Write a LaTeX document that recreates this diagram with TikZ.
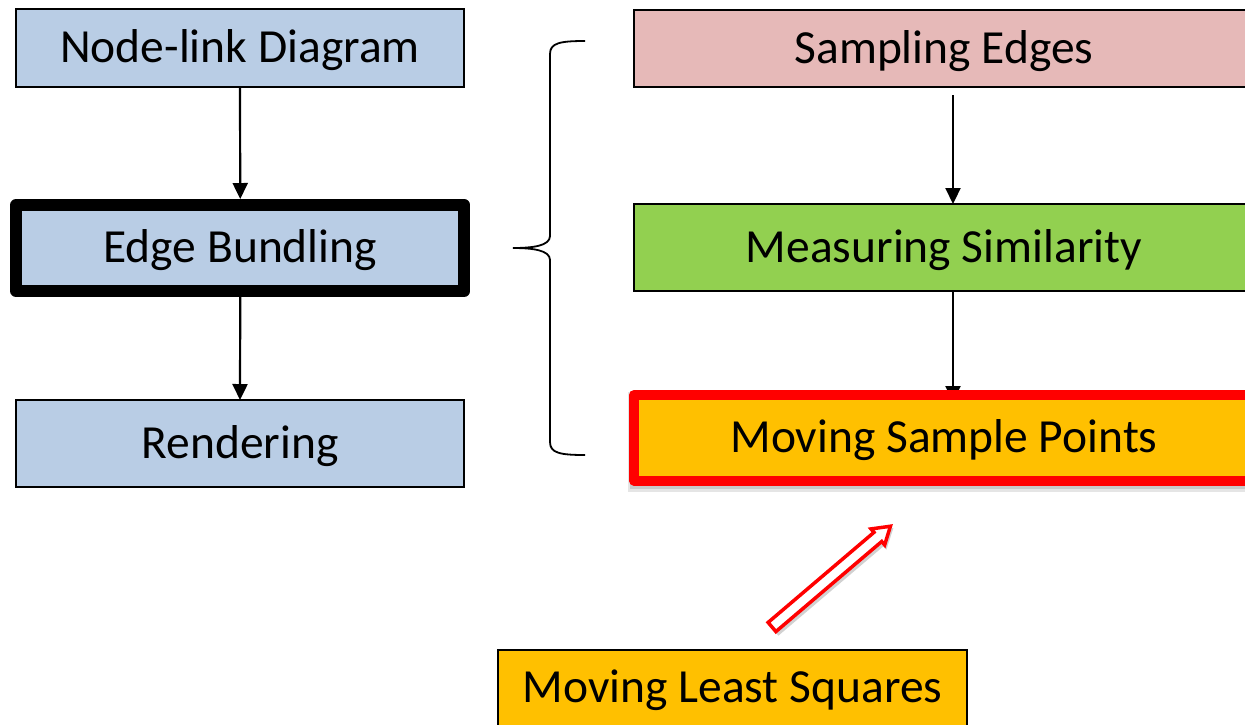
\documentclass[tikz,border=0pt]{standalone}
\usepackage{fontspec}
\setmainfont{Carlito}
\usetikzlibrary{arrows.meta,calc,backgrounds}

\definecolor{boxblue}{HTML}{B9CDE5}
\definecolor{boxpink}{HTML}{E6B9B8}
\definecolor{boxgreen}{HTML}{92D050}
\definecolor{boxgold}{HTML}{FFC000}
\definecolor{hotred}{HTML}{FF0000}

\tikzset{
  stagebox/.style={draw=black, line width=1.6pt, rectangle, align=center,
    font=\fontsize{47.5}{54}\selectfont, text height=29pt, text depth=0pt,
    inner sep=0pt, outer sep=0pt},
  blueboxstyle/.style={stagebox, fill=boxblue, minimum width=448pt},
  rightbox/.style={stagebox, minimum width=620pt},
  flow/.style={draw=black, line width=2.2pt, -{Triangle[length=16pt,width=15pt]}},
  bracestyle/.style={draw=black, line width=1.8pt},
}

\begin{document}
\begin{tikzpicture}[x=1pt, y=-1pt]
  \useasboundingbox (0,0) rectangle (1245,724);
  \clip (0,0) rectangle (1245,724);

  % left column: pipeline
  \node[blueboxstyle, minimum height=78pt] (nld) at (240,48) {Node-link Diagram};
  \node[blueboxstyle, minimum height=86pt, line width=12pt, line join=round,
        outer sep=6pt] (eb) at (240.25,248) {Edge Bundling};
  \node[blueboxstyle, minimum height=87pt] (rend) at (240,443.5) {Rendering};

  % right column: edge bundling steps
  \node[rightbox, fill=boxpink, minimum height=77pt] (se) at (944,48.5) {Sampling Edges};
  \node[rightbox, fill=boxgreen, minimum height=87pt] (ms) at (944,247.5) {Measuring Similarity};

  % soft shadow under the highlighted step
  \fill[black, opacity=0.10] (628,392) rectangle (1260,492);
  \fill[black, opacity=0.12] (630,393) rectangle (1260,489);
  \node[rightbox, fill=boxgold, draw=hotred, line width=10pt, line join=round,
        minimum height=85.5pt, outer sep=5pt] (msp) at (944,437.75) {Moving Sample Points};

  % method box at the bottom
  \node[stagebox, fill=boxgold, minimum width=469pt, minimum height=76pt]
        (mls) at (732.5,688) {Moving Least Squares};

  % flow arrows
  \draw[flow] (nld.south) -- (eb.north);
  \draw[flow] (eb.south) -- (rend.north);
  \draw[flow] ([xshift=9pt,yshift=-8pt]se.south) -- ([xshift=9pt]ms.north);
  \begin{pgfonlayer}{background}
    \draw[flow] ([xshift=9pt]ms.south) -- ([xshift=9pt,yshift=-12pt]msp.north);
  \end{pgfonlayer}

  % curly brace grouping the three steps
  \coordinate (btop) at (585,41);
  \coordinate (btip) at (513,248);
  \coordinate (bbot) at (585,455);
  \draw[bracestyle] (btop) .. controls (560,41) and (550,43) .. (550,54)
     -- (550,236) .. controls (550,246) and (532,248) .. (btip)
     .. controls (532,248) and (550,250) .. (550,260)
     -- (550,442) .. controls (550,453) and (560,455) .. (bbot);

  % hollow arrow from the method to the step it drives
  \coordinate (atail) at (772,627);
  \coordinate (ahead) at (892,525);
  \begin{scope}[shift={([xshift=1.5pt,yshift=-3pt]atail)}, rotate=40.4]
    \fill[black, opacity=0.18] (0,-7.5) -- (138,-7.5) -- (138,-12) -- (157.5,0)
      -- (138,12) -- (138,7.5) -- (0,7.5) -- cycle;
  \end{scope}
  \begin{scope}[shift={(atail)}, rotate=40.4]
    \draw[hotred, fill=white, line width=3.5pt, line join=miter]
      (0,-6) -- (139,-6) -- (139,-10.5) -- (155.5,0)
      -- (139,10.5) -- (139,6) -- (0,6) -- cycle;
  \end{scope}
\end{tikzpicture}
\end{document}
